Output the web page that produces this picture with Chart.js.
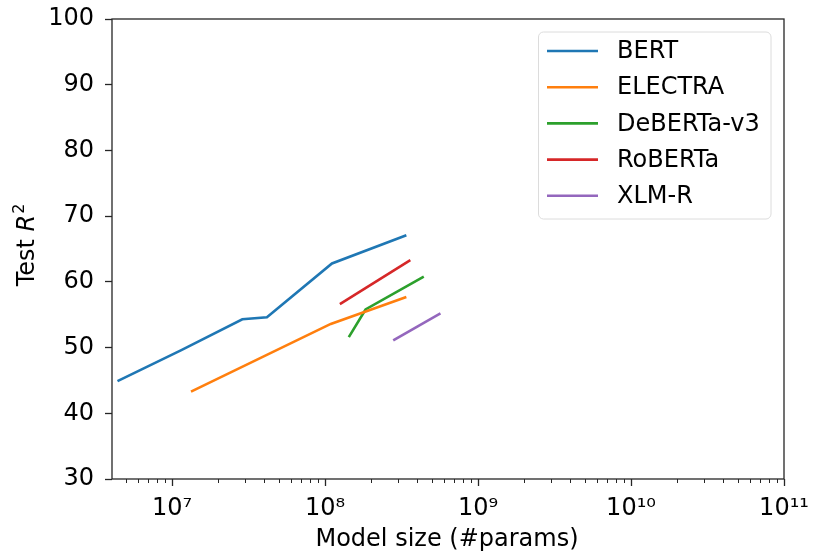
<!DOCTYPE html>
<html>
<head>
<meta charset="utf-8">
<script src="https://cdn.jsdelivr.net/npm/chart.js@4.4.0/dist/chart.umd.min.js"></script>
<style>
  html, body { margin: 0; padding: 0; background: #fff; }
  #wrap { width: 813px; height: 552px; }
</style>
</head>
<body>
<div id="wrap"><canvas id="chart" width="813" height="552"></canvas></div>
<script>
// series (x = #params, y = test R^2)
const seriesNames = ['BERT', 'ELECTRA', 'DeBERTa-v3', 'RoBERTa', 'XLM-R'];
const seriesColors = ['#1f77b4', '#ff7f0e', '#2ca02c', '#d62728', '#9467bd'];

const bertParams = [4.4e6, 11.5e6, 28.8e6, 41.7e6, 111e6, 340e6];
const bertR2 = [44.9, 49.6, 54.3, 54.6, 62.8, 67.1];

const electraParams = [13.3e6, 109e6, 340e6];
const electraR2 = [43.3, 53.6, 57.7];

const debertaParams = [143e6, 184e6, 442e6];
const debertaR2 = [51.6, 55.8, 60.8];

const robertaParams = [125e6, 361e6];
const robertaR2 = [56.6, 63.3];

const xlmrParams = [279e6, 568e6];
const xlmrR2 = [51.1, 55.2];

const xMajorTicks = [1e7, 1e8, 1e9, 1e10, 1e11];
const xTickLabels = ['10\u2077', '10\u2078', '10\u2079', '10\u00b9\u2070', '10\u00b9\u00b9'];
const yTicks = [30, 40, 50, 60, 70, 80, 90, 100];

const FONT = 'DejaVu Sans';
const FS = 24;

function pts(xs, ys) {
  return xs.map((x, i) => ({ x: x, y: ys[i] }));
}

const allSeries = [
  pts(bertParams, bertR2),
  pts(electraParams, electraR2),
  pts(debertaParams, debertaR2),
  pts(robertaParams, robertaR2),
  pts(xlmrParams, xlmrR2)
];

// minor ticks 2..9 x 10^n inside the axis range
const xMin = 4.05e6, xMax = 1e11;
const xMinorTicks = [];
for (let e = 6; e < 11; e++) {
  for (let m = 2; m <= 9; m++) {
    const v = m * Math.pow(10, e);
    if (v >= xMin && v <= xMax) xMinorTicks.push(v);
  }
}

const decorPlugin = {
  id: 'decor',
  afterDraw(chart) {
    const ctx = chart.ctx;
    const a = chart.chartArea;
    const xs = chart.scales.x;
    ctx.save();

    // frame
    ctx.strokeStyle = '#262626';
    ctx.lineWidth = 1.3;
    ctx.strokeRect(a.left, a.top, a.right - a.left, a.bottom - a.top);

    // minor x ticks
    ctx.lineWidth = 1;
    ctx.beginPath();
    xMinorTicks.forEach(v => {
      const px = Math.round(xs.getPixelForValue(v)) + 0.5;
      ctx.moveTo(px, a.bottom);
      ctx.lineTo(px, a.bottom + 4);
    });
    ctx.stroke();

    // axis titles
    ctx.fillStyle = '#000';
    ctx.font = FS + 'px "' + FONT + '"';
    ctx.textAlign = 'center';
    ctx.textBaseline = 'alphabetic';
    ctx.fillText('Model size (#params)', (a.left + a.right) / 2 - 1, 546);

    ctx.save();
    ctx.translate(34, 245);
    ctx.rotate(-Math.PI / 2);
    const p1 = 'Test ';
    const p2 = 'R';
    const p3 = '2';
    ctx.font = FS + 'px "' + FONT + '"';
    const w1 = ctx.measureText(p1).width;
    ctx.font = 'italic ' + FS + 'px "' + FONT + '"';
    const w2 = ctx.measureText(p2).width;
    ctx.font = '16px "' + FONT + '"';
    const w3 = ctx.measureText(p3).width;
    let sx = -(w1 + w2 + w3 + 1) / 2;
    ctx.textAlign = 'left';
    ctx.font = FS + 'px "' + FONT + '"';
    ctx.fillText(p1, sx, 0);
    sx += w1;
    ctx.font = 'italic ' + FS + 'px "' + FONT + '"';
    ctx.fillText(p2, sx, 0);
    sx += w2 + 1;
    ctx.font = '16px "' + FONT + '"';
    ctx.fillText(p3, sx, -10);
    ctx.restore();

    // legend
    const bx = 538.5, by = 32, bw = 232.5, bh = 187, r = 5;
    ctx.beginPath();
    ctx.moveTo(bx + r, by);
    ctx.arcTo(bx + bw, by, bx + bw, by + bh, r);
    ctx.arcTo(bx + bw, by + bh, bx, by + bh, r);
    ctx.arcTo(bx, by + bh, bx, by, r);
    ctx.arcTo(bx, by, bx + bw, by, r);
    ctx.closePath();
    ctx.fillStyle = 'rgba(255,255,255,0.8)';
    ctx.fill();
    ctx.strokeStyle = '#dcdcdc';
    ctx.lineWidth = 1;
    ctx.stroke();

    ctx.font = FS + 'px "' + FONT + '"';
    ctx.textAlign = 'left';
    ctx.textBaseline = 'middle';
    chart.data.datasets.forEach((ds, i) => {
      const ry = 51 + i * 36.2;
      ctx.strokeStyle = ds.borderColor;
      ctx.lineWidth = 2.6;
      ctx.beginPath();
      ctx.moveTo(547, ry);
      ctx.lineTo(598, ry);
      ctx.stroke();
      ctx.fillStyle = '#000';
      ctx.fillText(ds.label, 617, ry + 1);
    });

    ctx.restore();
  }
};

new Chart(document.getElementById('chart'), {
  type: 'scatter',
  data: {
    datasets: seriesNames.map((name, i) => ({
      label: name,
      data: allSeries[i],
      showLine: true,
      borderColor: seriesColors[i],
      backgroundColor: seriesColors[i],
      borderWidth: 2.6,
      pointRadius: 0,
      tension: 0
    }))
  },
  options: {
    responsive: false,
    animation: false,
    devicePixelRatio: 1,
    layout: { padding: { top: 19, right: 29, left: 0, bottom: 0 } },
    plugins: {
      legend: { display: false },
      tooltip: { enabled: false }
    },
    scales: {
      x: {
        type: 'logarithmic',
        min: xMin,
        max: xMax,
        afterBuildTicks(scale) {
          scale.ticks = xMajorTicks.map(v => ({ value: v }));
        },
        afterFit(scale) {
          scale.height = 73;
          scale.paddingLeft = 0;
          scale.paddingRight = 0;
        },
        grid: {
          drawOnChartArea: false,
          tickLength: 7,
          tickColor: '#262626',
          tickWidth: 1.3
        },
        border: { display: false },
        ticks: {
          color: '#000',
          font: { family: FONT, size: FS },
          padding: 8,
          maxRotation: 0,
          autoSkip: false,
          callback(value) {
            const i = xMajorTicks.indexOf(value);
            return i >= 0 ? xTickLabels[i] : '';
          }
        }
      },
      y: {
        min: 30,
        max: 100,
        afterBuildTicks(scale) {
          scale.ticks = yTicks.map(v => ({ value: v }));
        },
        afterFit(scale) {
          scale.width = 112;
          scale.paddingTop = 0;
          scale.paddingBottom = 0;
        },
        grid: {
          drawOnChartArea: false,
          tickLength: 7,
          tickColor: '#262626',
          tickWidth: 1.3
        },
        border: { display: false },
        ticks: {
          color: '#000',
          font: { family: FONT, size: FS },
          padding: 11
        }
      }
    }
  },
  plugins: [decorPlugin]
});
</script>
</body>
</html>
